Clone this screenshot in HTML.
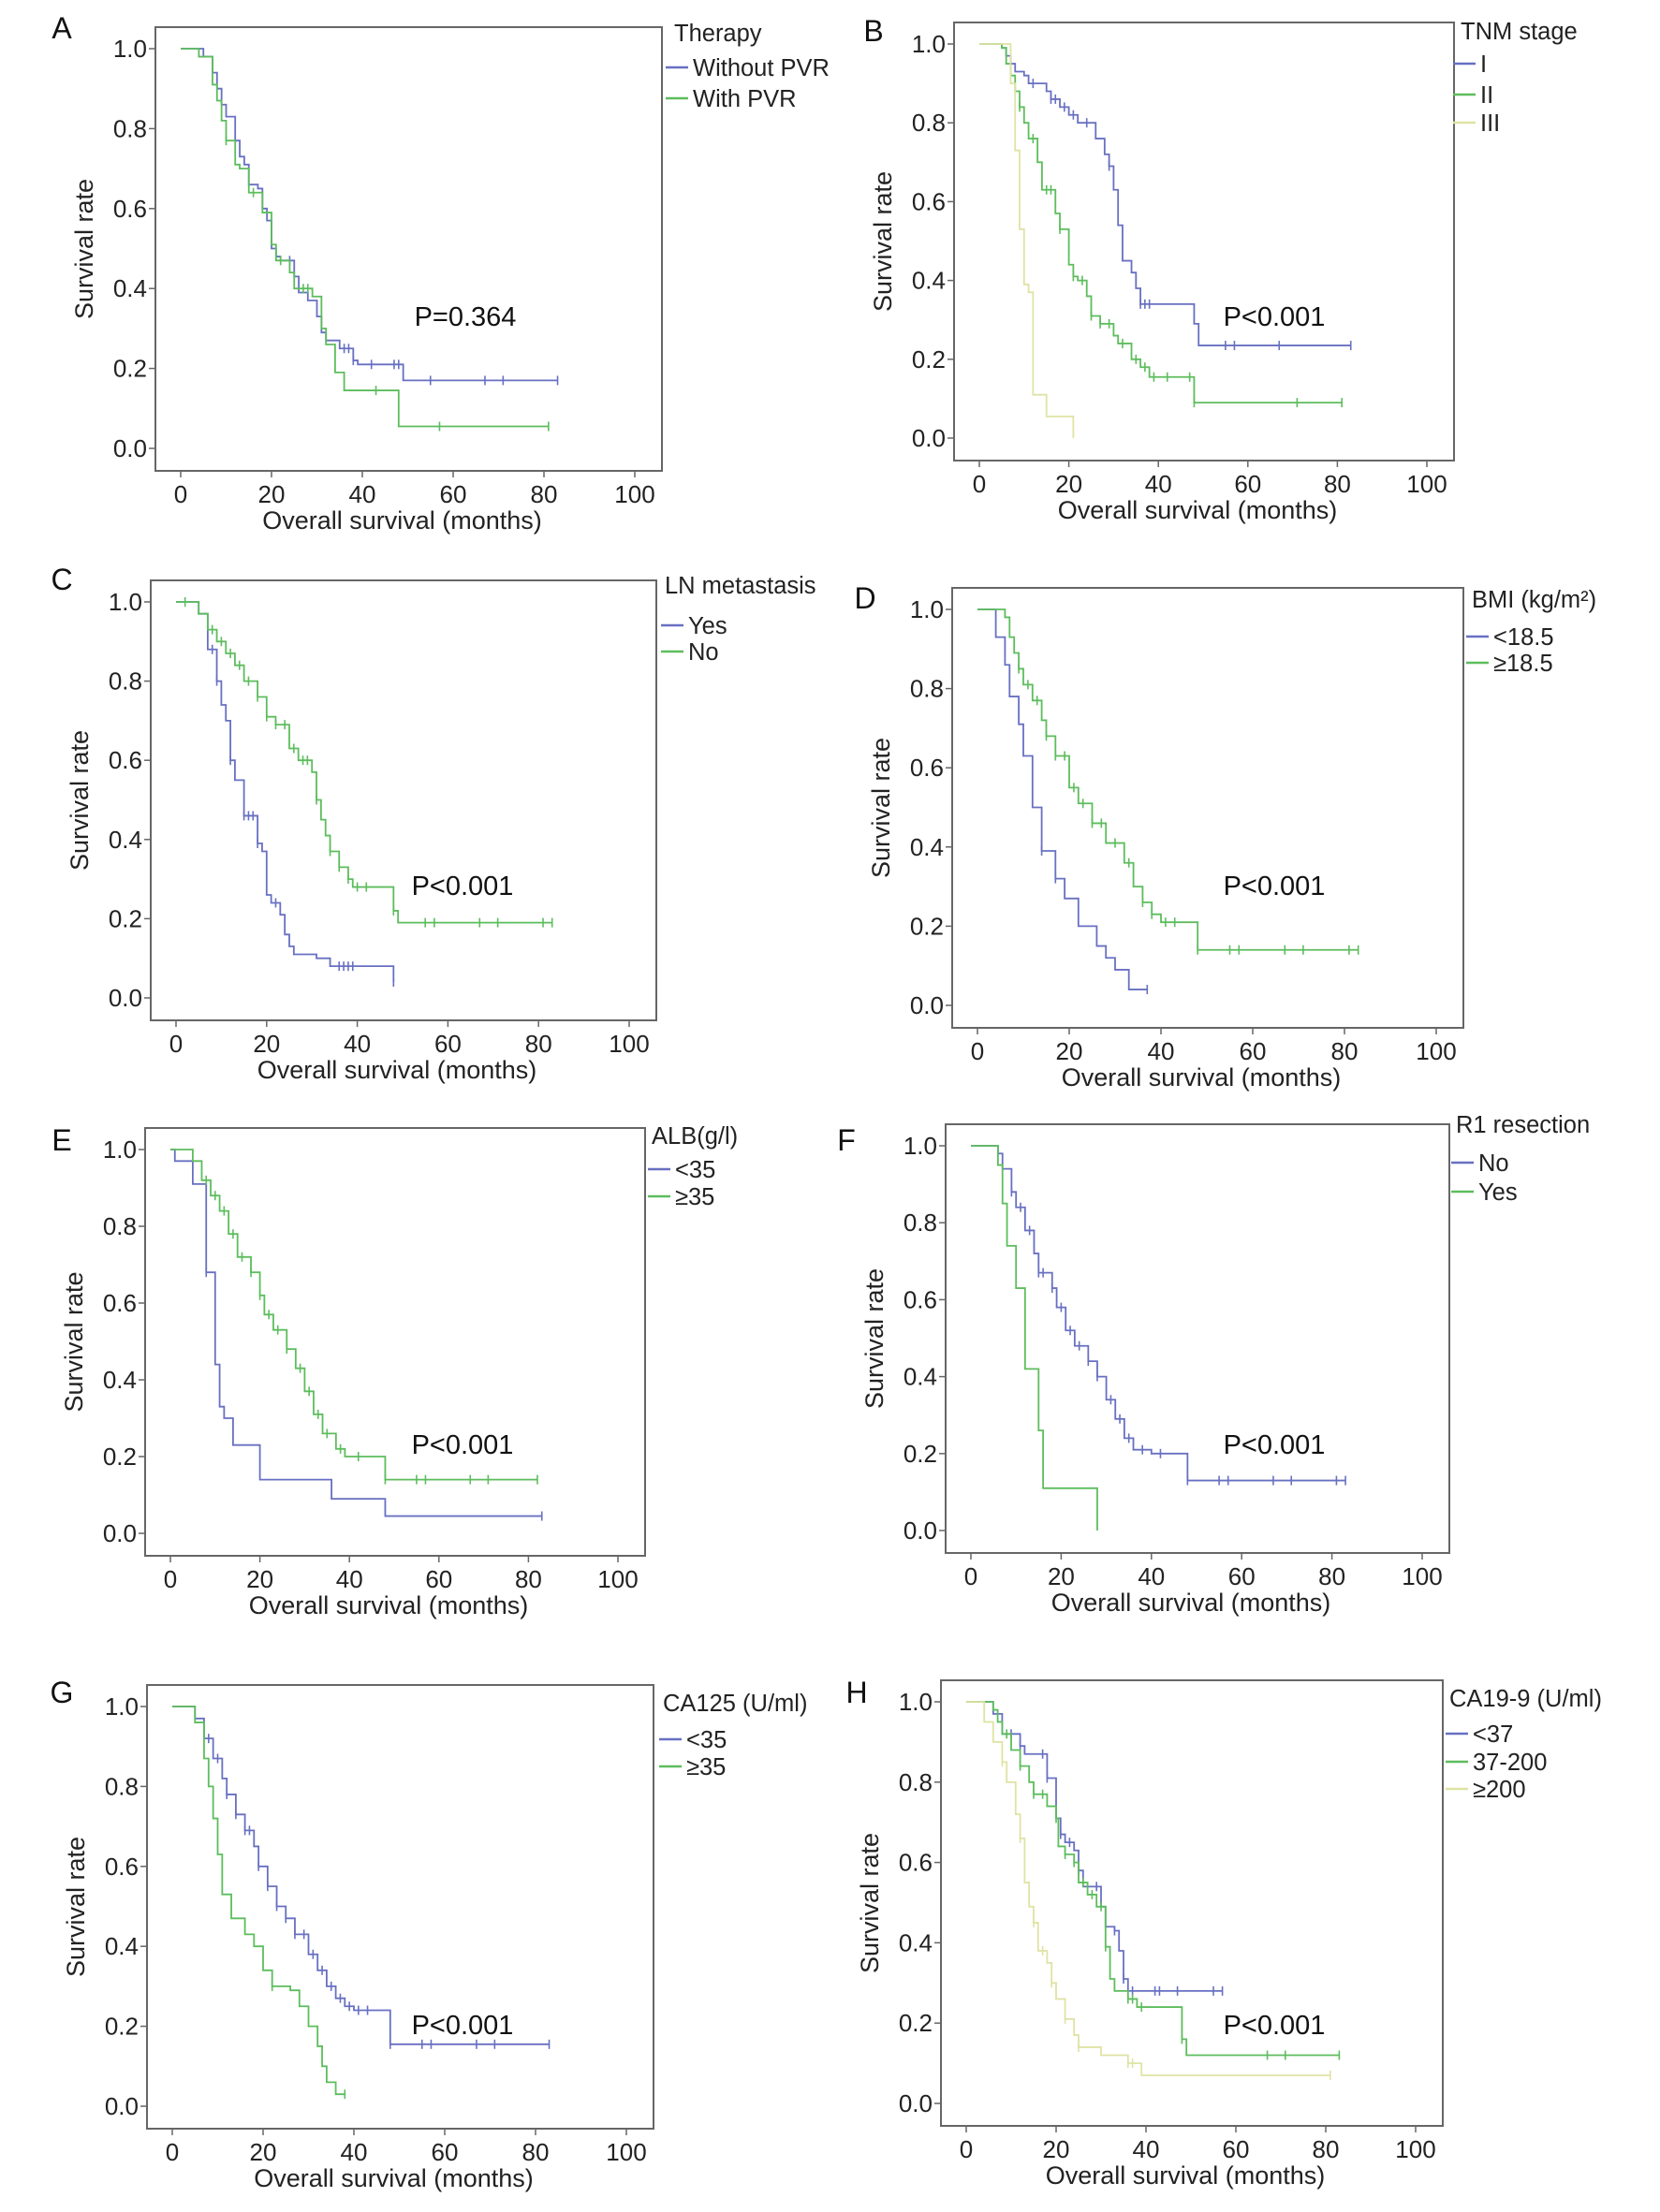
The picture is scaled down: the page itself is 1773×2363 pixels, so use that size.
<!DOCTYPE html>
<html><head><meta charset="utf-8"><style>
html,body{margin:0;padding:0;background:#fff;}
svg{display:block;font-family:"Liberation Sans",sans-serif;}
</style></head><body>
<svg id="fig" width="1773" height="2363" viewBox="0 0 1773 2363" xmlns="http://www.w3.org/2000/svg"></svg>
<script>
// ---- data ----
const xTicks=[0,20,40,60,80,100];
const yTicks=[0.0,0.2,0.4,0.6,0.8,1.0];
const yTickLabels=["0.0","0.2","0.4","0.6","0.8","1.0"];

const A_blue=[[0,1],[5,0.98],[7,0.94],[8,0.9],[9,0.86],[10,0.83],[12,0.77],[13,0.73],[14,0.71],[15,0.66],[17,0.65],[18,0.6],[19,0.57],[20,0.5],[21,0.48],[22,0.47],[25,0.43],[26,0.39],[28,0.37],[30,0.33],[31,0.29],[32,0.27],[35,0.25],[38,0.22],[39,0.21],[49,0.17],[83,0.17]];
const A_blue_c=[24,36,37,38,42,47,48,55,67,71,83];
const A_green=[[0,1],[4,0.98],[7,0.91],[8,0.87],[9,0.82],[10,0.77],[12,0.71],[13,0.7],[15,0.64],[18,0.59],[20,0.51],[21,0.47],[24,0.44],[25,0.4],[29,0.38],[31,0.3],[32,0.26],[34,0.19],[36,0.145],[48,0.055],[81,0.055]];
const A_green_c=[10,16,22,27,28,43,57,81];

const B_I=[[0,1],[5,0.99],[6,0.97],[7,0.95],[8,0.93],[10,0.92],[11,0.9],[15,0.88],[16,0.86],[18,0.84],[20,0.82],[22,0.8],[26,0.76],[28,0.72],[29,0.69],[30,0.63],[31,0.54],[32,0.45],[34,0.42],[35,0.38],[36,0.34],[48,0.29],[49,0.235],[83,0.235]];
const B_I_c=[12,16,17,19,21,24,29,36,37,38,55,57,67,83];
const B_II=[[0,1],[5,0.99],[6,0.95],[7,0.92],[8,0.88],[9,0.84],[10,0.8],[11,0.76],[13,0.7],[14,0.63],[17,0.57],[18,0.53],[20,0.44],[21,0.41],[22,0.4],[24,0.36],[25,0.31],[27,0.29],[30,0.26],[31,0.24],[34,0.2],[36,0.18],[38,0.155],[48,0.09],[81,0.09]];
const B_II_c=[9,12,15,16,18,21,23,25,27,29,32,35,37,39,42,47,48,71,81];
const B_III=[[0,1],[7,0.9],[8,0.73],[9,0.53],[10,0.39],[11,0.37],[12,0.11],[15,0.055],[21,0],[21,0]];
const B_III_c=[];

const C_yes=[[0,1],[5,0.97],[7,0.88],[9,0.8],[10,0.74],[11,0.7],[12,0.6],[13,0.55],[15,0.46],[18,0.39],[19,0.37],[20,0.26],[21,0.24],[23,0.21],[24,0.16],[25,0.13],[26,0.11],[31,0.1],[34,0.08],[48,0.04],[48,0.04]];
const C_yes_c=[8,9,12,15,16,17,18,22,36,37,38,39,48];
const C_no=[[0,1],[5,0.97],[7,0.93],[9,0.9],[11,0.87],[13,0.84],[15,0.8],[18,0.76],[20,0.71],[22,0.69],[25,0.63],[27,0.6],[30,0.57],[31,0.5],[32,0.45],[33,0.41],[34,0.37],[36,0.33],[38,0.3],[39,0.28],[48,0.22],[49,0.19],[83,0.19]];
const C_no_c=[2,8,10,12,14,16,18,20,22,24,26,28,29,31,34,36,38,40,42,48,55,57,67,71,81,83];

const D_low=[[0,1],[4,0.93],[6,0.86],[7,0.78],[9,0.71],[10,0.63],[12,0.5],[14,0.39],[17,0.32],[19,0.27],[22,0.2],[26,0.15],[28,0.12],[30,0.09],[33,0.04],[37,0.04]];
const D_low_c=[14,17,37];
const D_high=[[0,1],[6,0.98],[7,0.93],[8,0.89],[9,0.85],[10,0.81],[12,0.77],[14,0.72],[15,0.68],[17,0.63],[20,0.55],[22,0.51],[25,0.46],[28,0.41],[32,0.36],[34,0.3],[36,0.26],[38,0.23],[40,0.21],[48,0.14],[83,0.14]];
const D_high_c=[9,11,13,15,17,19,21,23,25,27,30,33,36,38,41,43,48,55,57,67,71,81,83];

const E_low=[[0,1],[1,0.97],[5,0.91],[8,0.68],[10,0.44],[11,0.33],[12,0.3],[14,0.23],[20,0.14],[36,0.09],[48,0.045],[83,0.045]];
const E_low_c=[8,83];
const E_high=[[0,1],[5,0.97],[7,0.92],[9,0.88],[11,0.84],[13,0.78],[15,0.72],[18,0.68],[20,0.62],[21,0.57],[23,0.53],[26,0.48],[28,0.43],[30,0.37],[32,0.31],[34,0.26],[37,0.22],[39,0.2],[48,0.14],[82,0.14]];
const E_high_c=[8,10,12,14,16,18,20,22,24,26,29,31,33,35,38,42,48,55,57,67,71,82];

const F_no=[[0,1],[6,0.98],[7,0.94],[9,0.88],[10,0.84],[12,0.78],[14,0.72],[15,0.67],[18,0.63],[19,0.58],[21,0.52],[23,0.48],[26,0.44],[28,0.4],[30,0.34],[32,0.29],[34,0.24],[36,0.21],[40,0.2],[48,0.13],[83,0.13]];
const F_no_c=[9,11,13,15,16,18,20,22,24,26,28,31,33,35,38,42,48,55,57,67,71,81,83];
const F_yes=[[0,1],[6,0.95],[7,0.85],[8,0.74],[10,0.63],[12,0.42],[15,0.26],[16,0.11],[28,0],[28,0]];
const F_yes_c=[];

const G_low=[[0,1],[5,0.97],[7,0.92],[9,0.87],[11,0.82],[12,0.78],[14,0.73],[16,0.69],[18,0.65],[19,0.6],[21,0.55],[23,0.5],[25,0.47],[27,0.43],[30,0.38],[32,0.34],[34,0.3],[36,0.27],[38,0.25],[40,0.24],[48,0.155],[83,0.155]];
const G_low_c=[8,10,12,14,16,17,19,21,23,25,27,29,31,33,35,37,39,41,43,48,55,57,67,71,83];
const G_high=[[0,1],[5,0.96],[7,0.87],[8,0.8],[9,0.72],[10,0.63],[11,0.53],[13,0.47],[16,0.43],[18,0.4],[20,0.34],[22,0.3],[26,0.29],[28,0.25],[30,0.2],[32,0.15],[33,0.1],[34,0.06],[36,0.03],[38,0.03]];
const G_high_c=[22,38];

const H_low=[[0,1],[6,0.97],[8,0.92],[12,0.89],[13,0.87],[18,0.81],[20,0.71],[21,0.67],[22,0.65],[24,0.63],[25,0.58],[26,0.54],[30,0.49],[31,0.44],[33,0.43],[34,0.38],[35,0.31],[36,0.28],[57,0.28]];
const H_low_c=[10,12,17,18,21,23,25,29,33,35,37,42,43,47,55,57];
const H_mid=[[0,1],[6,0.98],[7,0.95],[8,0.92],[10,0.88],[12,0.84],[14,0.8],[15,0.77],[18,0.74],[20,0.71],[20.5,0.64],[22,0.62],[24,0.6],[25,0.55],[27,0.52],[29,0.49],[31,0.39],[32,0.31],[33,0.28],[36,0.26],[38,0.24],[48,0.16],[49,0.12],[83,0.12]];
const H_mid_c=[9,12,15,17,20,22,24,26,28,30,31,36,37,39,48,67,71,83];
const H_high=[[0,1],[4,0.95],[6,0.9],[8,0.85],[9,0.8],[11,0.72],[12,0.66],[13,0.55],[14,0.49],[15,0.45],[16,0.38],[18,0.35],[19,0.3],[20,0.26],[22,0.21],[24,0.17],[25,0.14],[30,0.12],[36,0.1],[39,0.07],[81,0.07]];
const H_high_c=[8,12,15,17,19,22,25,36,37,81];

const BLUE="#6870c2",GREEN="#5dbd5d",YELLOW="#dfe3a4";
const panels=[
 {id:"a",letter:"A",x0:193,x100:678,y0:479,y1:52,lx:[66,30],p:"P=0.364",pp:[497,338],leg:"Therapy",legT:[720,35],legX:711,legY:[72,105],names:["Without PVR","With PVR"],series:[[A_blue,A_blue_c,BLUE],[A_green,A_green_c,GREEN]]},
 {id:"b",letter:"B",x0:1046,x100:1524,y0:468,y1:47,lx:[933,33],p:"P<0.001",pp:[1361,338],leg:"TNM stage",legT:[1560,33],legX:1552,legY:[68,101,131],names:["I","II","III"],series:[[B_I,B_I_c,BLUE],[B_II,B_II_c,GREEN],[B_III,B_III_c,YELLOW]]},
 {id:"c",letter:"C",x0:188,x100:672,y0:1066,y1:643,lx:[66,619],p:"P<0.001",pp:[494,946],leg:"LN metastasis",legT:[710,625],legX:706,legY:[668,696],names:["Yes","No"],series:[[C_yes,C_yes_c,BLUE],[C_no,C_no_c,GREEN]]},
 {id:"d",letter:"D",x0:1044,x100:1534,y0:1074,y1:651,lx:[924,639],p:"P<0.001",pp:[1361,946],leg:"BMI (kg/m²)",legT:[1572,640],legX:1566,legY:[680,708],names:["<18.5","≥18.5"],series:[[D_low,D_low_c,BLUE],[D_high,D_high_c,GREEN]]},
 {id:"e",letter:"E",x0:182,x100:660,y0:1638,y1:1228,lx:[66,1218],p:"P<0.001",pp:[494,1543],leg:"ALB(g/l)",legT:[696,1213],legX:692,legY:[1249,1278],names:["<35","≥35"],series:[[E_low,E_low_c,BLUE],[E_high,E_high_c,GREEN]]},
 {id:"f",letter:"F",x0:1037,x100:1519,y0:1635,y1:1224,lx:[904,1218],p:"P<0.001",pp:[1361,1543],leg:"R1 resection",legT:[1555,1201],legX:1550,legY:[1242,1273],names:["No","Yes"],series:[[F_no,F_no_c,BLUE],[F_yes,F_yes_c,GREEN]]},
 {id:"g",letter:"G",x0:184,x100:669,y0:2250,y1:1823,lx:[66,1808],p:"P<0.001",pp:[494,2163],leg:"CA125 (U/ml)",legT:[708,1819],legX:704,legY:[1858,1887],names:["<35","≥35"],series:[[G_low,G_low_c,BLUE],[G_high,G_high_c,GREEN]]},
 {id:"h",letter:"H",x0:1032,x100:1512,y0:2247,y1:1818,lx:[915,1808],p:"P<0.001",pp:[1361,2163],leg:"CA19-9 (U/ml)",legT:[1548,1814],legX:1544,legY:[1852,1882,1911],names:["<37","37-200","≥200"],series:[[H_low,H_low_c,BLUE],[H_mid,H_mid_c,GREEN],[H_high,H_high_c,YELLOW]]}
];
const NS="http://www.w3.org/2000/svg";
const svg=document.getElementById('fig');
function mk(tag,attrs,parent,text){const e=document.createElementNS(NS,tag);for(const k in attrs)e.setAttribute(k,attrs[k]);if(text!==undefined)e.textContent=text;parent.appendChild(e);return e;}
function survAt(steps,t){let v=1;for(const s of steps){if(s[0]<=t)v=s[1];else break;}return v;}
panels.forEach(P=>{
 const sx=t=>P.x0+(P.x100-P.x0)*t/100;
 const sy=v=>P.y0+(P.y1-P.y0)*v;
 const g=mk('g',{},svg);
 
 
 const L=P.x0-27,R=P.x100+29,T=P.y1-23,B=P.y0+24;
 const fr=mk('rect',{x:L,y:T,width:R-L,height:B-T,fill:'none',stroke:'#666','stroke-width':2},g);
 
 
 const lt=mk('text',{x:P.lx[0],y:P.lx[1]+11,'font-size':32,'text-anchor':'middle',fill:'#111'},g,P.letter);
 
 
 yTicks.forEach((v,i)=>{
  mk('line',{x1:L-7,x2:L,y1:sy(v),y2:sy(v),stroke:'#666','stroke-width':1.5},g);
  const t=mk('text',{x:L-9,y:sy(v)+9,'font-size':26,'text-anchor':'end',fill:'#222'},g,yTickLabels[i]);
  
  
 });
 xTicks.forEach(v=>{
  mk('line',{x1:sx(v),x2:sx(v),y1:B,y2:B+7,stroke:'#666','stroke-width':1.5},g);
  const t=mk('text',{x:sx(v),y:B+34,'font-size':26,'text-anchor':'middle',fill:'#222'},g,String(v));
  
  
 });
 const xt=mk('text',{x:(P.x0+P.x100)/2-6,y:B+62,'font-size':27,'text-anchor':'middle',fill:'#222'},g,'Overall survival (months)');
 
 
 const ycx=L-67,ycy=(T+B)/2;
 const yt=mk('text',{x:ycx,y:ycy,'font-size':27,'text-anchor':'middle',fill:'#222',transform:`rotate(-90 ${ycx} ${ycy})`},g,'Survival rate');
 
 
 const pt=mk('text',{x:P.pp[0],y:P.pp[1]+10,'font-size':29,'text-anchor':'middle',fill:'#111'},g,P.p);
 
 
 P.series.forEach((s,k)=>{
  const steps=s[0],cens=s[1],col=s[2];
  let d=`M${sx(steps[0][0])},${sy(steps[0][1])}`;
  for(let i=1;i<steps.length;i++){d+=` H${sx(steps[i][0])} V${sy(steps[i][1])}`;}
  const path=mk('path',{d:d,fill:'none',stroke:col,'stroke-width':1.8},g);
  
  
  cens.forEach(c=>{
   const y=sy(survAt(steps,c));
   const m=mk('line',{x1:sx(c),x2:sx(c),y1:y-5,y2:y+5,stroke:col,'stroke-width':1.6},g);
   
   
  });
 });
 const lg=mk('text',{x:P.legT[0],y:P.legT[1]+9,'font-size':25.5,fill:'#222'},g,P.leg);
 
 
 P.names.forEach((n,k)=>{
  const y=P.legY[k];
  const ln=mk('line',{x1:P.legX,x2:P.legX+24,y1:y,y2:y,stroke:P.series[k][2],'stroke-width':2.5},g);
  
  
  const tx=mk('text',{x:P.legX+29,y:y+9,'font-size':25.5,fill:'#222'},g,n);
  
  
 });
});
</script>
</body></html>
